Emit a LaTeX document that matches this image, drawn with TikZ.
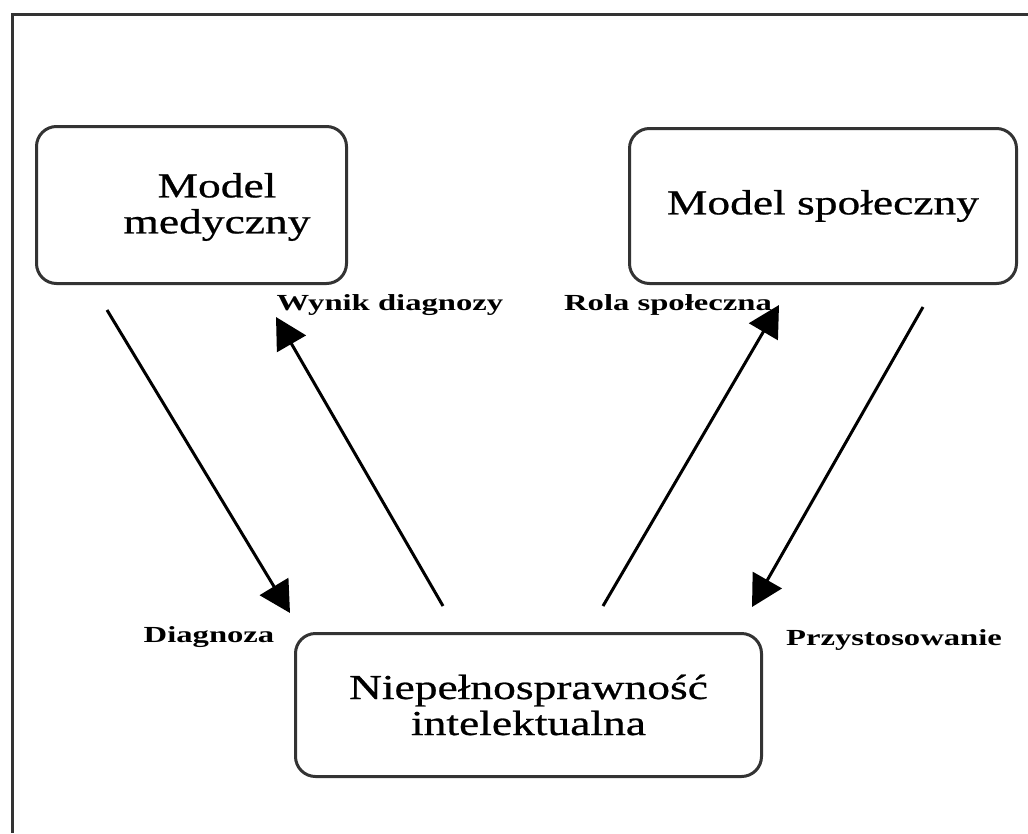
\documentclass[tikz,border=0pt]{standalone}
\usepackage{fontspec}
\usetikzlibrary{arrows.meta}
\setmainfont{Liberation Serif}
\newfontfamily\boxfont[FakeStretch=1.3,FakeBold=0.7]{Liberation Serif}
\newfontfamily\labfont[FakeStretch=1.42]{Liberation Serif Bold}
\definecolor{edge}{HTML}{333333}
\begin{document}
\begin{tikzpicture}[x=1pt,y=-1pt,
  modelbox/.style={draw=edge, line width=3pt, rounded corners=20pt, fill=white,
    anchor=north west, inner sep=0pt},
  boxtext/.style={font=\boxfont\fontsize{35}{36}\selectfont, align=center, inner sep=0pt},
  arrowlabel/.style={font=\labfont\fontsize{23}{25}\selectfont, inner sep=0pt},
  link/.style={line width=3pt, -{Triangle[length=31pt,width=33pt]}}]
\useasboundingbox (0,0) rectangle (1028,833);
% outer frame (top and left edges)
\draw[edge, line width=3pt] (1028,14) -- (12,14) -- (12,833);
% boxes
\node[modelbox, minimum width=310pt, minimum height=157pt] (med) at (35,125) {};
\node[boxtext] (medtxt) at (217,207) {Model\\medyczny};
\node[modelbox, minimum width=387pt, minimum height=155pt] (spo) at (628,127) {};
\node[boxtext] (spotxt) at (spo.center) {Model społeczny};
\node[modelbox, minimum width=466pt, minimum height=143pt] (niep) at (294,632) {};
\node[boxtext] (nieptxt) at (niep.center) {Niepełnosprawność\\intelektualna};
% arrow end points
\coordinate (a1s) at (107,310);
\coordinate (a1e) at (290,613);
\coordinate (a2s) at (443,606);
\coordinate (a2e) at (276,317);
\coordinate (a3s) at (603,606);
\coordinate (a3e) at (779,305);
\coordinate (a4s) at (923,307);
\coordinate (a4e) at (752,607);
\draw[link] (a1s) -- (a1e);
\draw[link] (a2s) -- (a2e);
\draw[link] (a3s) -- (a3e);
\draw[link] (a4s) -- (a4e);
% labels
\node[arrowlabel] (l1) at (209,637) {Diagnoza};
\node[arrowlabel] (l2) at (390,305) {Wynik diagnozy};
\node[arrowlabel] (l3) at (668,305) {Rola społeczna};
\node[arrowlabel] (l4) at (894,640) {Przystosowanie};
\end{tikzpicture}
\end{document}
